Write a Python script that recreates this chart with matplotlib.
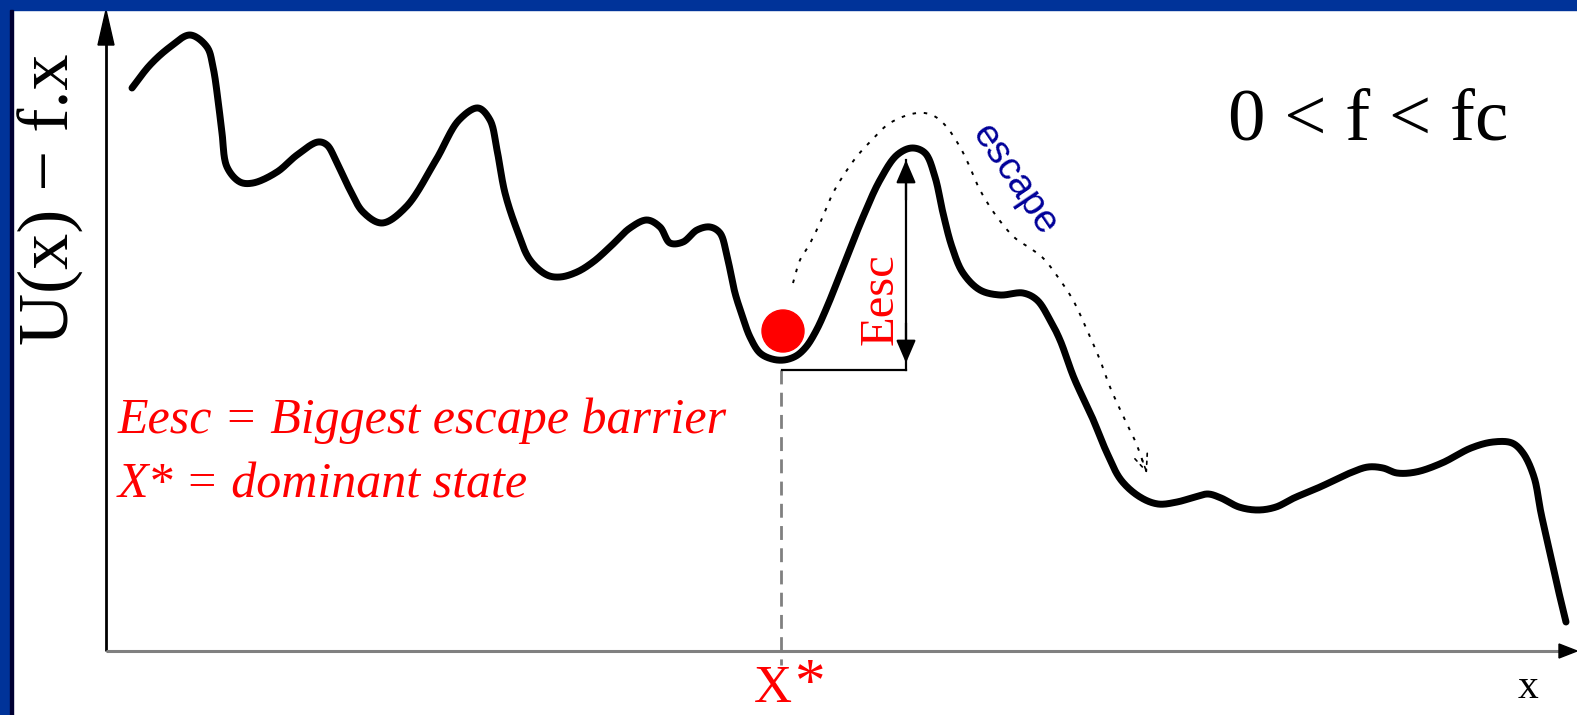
import numpy as np
import matplotlib
matplotlib.use("Agg")
import matplotlib.pyplot as plt
from matplotlib.patches import Rectangle, Circle, Polygon

# ---- data (x measured from the origin, U(x) - f.x measured upward) ----
curve_x = [26, 44, 64, 84, 101, 107, 112, 116, 121, 134, 147, 171, 191, 212, 221,
           231, 244, 257, 276, 300, 330, 353, 372, 384, 391, 399, 411, 424, 441,
           454, 471, 487, 504, 524, 541, 554, 564, 577, 591, 604, 614, 621, 629,
           636, 644, 654, 666, 678, 690, 700, 710, 721, 737, 757, 774, 791, 806, 819, 829,
           837, 846, 857, 874, 894, 917, 931, 944, 954, 968, 986, 1001, 1015, 1034,
           1052, 1071, 1089, 1102, 1115, 1133, 1152, 1170, 1188, 1214, 1244, 1262,
           1277, 1291, 1310, 1336, 1365, 1387, 1406, 1417, 1428, 1435, 1444, 1453,
           1460]
curve_u = [563, 586, 604, 616, 604, 584, 551, 518, 484, 469, 468, 479, 496, 509, 506,
           488, 461, 439, 428, 444, 491, 531, 543, 531, 501, 458, 421, 391, 376,
           374, 379, 389, 404, 423, 431, 424, 408, 409, 421, 424, 418, 395, 358,
           336, 314, 298, 292, 291, 295, 304, 320, 344, 384, 434, 471, 496, 503, 498, 474,
           438, 404, 378, 361, 356, 358, 351, 331, 311, 273, 234, 198, 171, 154,
           147, 149, 154, 157, 153, 144, 141, 144, 153, 164, 178, 184, 183, 178,
           179, 188, 203, 209, 208, 198, 174, 138, 98, 58, 29]

# escape path drawn above the barrier
escape_x = [687, 694, 702, 714, 727, 741, 752, 764, 784, 811, 826, 839, 854, 862,
            874, 891, 909, 924, 937, 954, 967, 981, 994, 1004, 1019, 1030, 1039]
escape_u = [368, 391, 404, 428, 458, 481, 496, 509, 528, 538, 536, 526, 504, 488,
            461, 434, 413, 403, 393, 371, 351, 321, 291, 264, 231, 208, 183]

x_star = 675          # dominant state position
u_star = 292          # bottom of the well
barrier_top = 491     # top of the escape barrier
barrier_x = 800       # where the barrier height is measured
ball_u = 320          # resting ball centre

BLUE = "#003399"
RED = "#ff0000"
NAVY = "#000099"


def centripetal_spline(xs, ys, n=24, alpha=0.5):
    P = np.column_stack([xs, ys]).astype(float)
    P = np.vstack([2 * P[0] - P[1], P, 2 * P[-1] - P[-2]])
    out = []
    for i in range(1, len(P) - 2):
        p0, p1, p2, p3 = P[i - 1], P[i], P[i + 1], P[i + 2]
        t0 = 0.0
        t1 = t0 + np.linalg.norm(p1 - p0) ** alpha
        t2 = t1 + np.linalg.norm(p2 - p1) ** alpha
        t3 = t2 + np.linalg.norm(p3 - p2) ** alpha
        t = np.linspace(t1, t2, n, endpoint=False)[:, None]
        A1 = (t1 - t) / (t1 - t0) * p0 + (t - t0) / (t1 - t0) * p1
        A2 = (t2 - t) / (t2 - t1) * p1 + (t - t1) / (t2 - t1) * p2
        A3 = (t3 - t) / (t3 - t2) * p2 + (t - t2) / (t3 - t2) * p3
        B1 = (t2 - t) / (t2 - t0) * A1 + (t - t0) / (t2 - t0) * A2
        B2 = (t3 - t) / (t3 - t1) * A2 + (t - t1) / (t3 - t1) * A3
        out.append((t2 - t) / (t2 - t1) * B1 + (t - t1) / (t2 - t1) * B2)
    out.append(P[-2][None])
    return np.vstack(out)


W, H = 1577, 715
fig = plt.figure(figsize=(W / 100, H / 100), dpi=100)
ax = fig.add_axes([0, 0, 1, 1])
ax.set_xlim(-106, W - 106)
ax.set_ylim(-64, H - 64)
ax.axis("off")
fig.patch.set_facecolor("white")

# frame bands
ax.add_patch(Rectangle((-106, 641), W, 20, color=BLUE, zorder=10, clip_on=False))
ax.add_patch(Rectangle((-116, -80), 20, 740, color=BLUE, zorder=10, clip_on=False))
ax.add_patch(Rectangle((-96, -80), 3, 721, color="#000033", zorder=10, clip_on=False))

# axes with arrow heads
ax.plot([0, 0], [0, 610], color="black", lw=2, solid_capstyle="butt", zorder=3)
ax.add_patch(Polygon([[0, 641], [-8, 606], [8, 606]], closed=True, color="black", zorder=3))
ax.plot([0, 1455], [0, 0], color="#808080", lw=2.2, solid_capstyle="butt", zorder=3)
ax.add_patch(Polygon([[1471, 0], [1453, -7], [1453, 7]], closed=True, color="black", zorder=3))

# potential landscape
pts = centripetal_spline(curve_x, curve_u)
ax.plot(pts[:, 0], pts[:, 1], color="black", lw=5, solid_capstyle="round",
        solid_joinstyle="round", zorder=4)

# escape path (dotted) with arrow head
ep = centripetal_spline(escape_x, escape_u)
ax.plot(ep[:, 0], ep[:, 1], color="black", lw=1.4, linestyle=(0, (1.8, 4)), zorder=4)
ax.annotate("", xy=(ep[-1, 0] + 3, ep[-1, 1] - 8), xytext=(ep[-12, 0], ep[-12, 1]),
            arrowprops=dict(arrowstyle="->,head_length=0.6,head_width=0.25",
                            color="black", lw=1.2, linestyle=(0, (1.8, 3)),
                            mutation_scale=20))

# dominant state marker
ax.plot([x_star, x_star], [u_star - 11, -14], color="#808080", lw=2,
        linestyle=(0, (5, 3)), zorder=2)
ax.add_patch(Circle((x_star + 2, ball_u), 21, color=RED, zorder=5))

# barrier height
ax.plot([x_star + 1, barrier_x], [u_star - 11, u_star - 11], color="black", lw=1.6, zorder=3)
ax.plot([barrier_x, barrier_x], [u_star - 11, barrier_top], color="black", lw=1.6, zorder=3)
arrow_kw = dict(arrowstyle="-|>,head_length=0.7,head_width=0.3", color="black",
                lw=1.6, mutation_scale=20, shrinkA=0, shrinkB=0)
ax.annotate("", xy=(barrier_x, barrier_top), xytext=(barrier_x, barrier_top - 40), arrowprops=arrow_kw)
ax.annotate("", xy=(barrier_x, u_star - 4), xytext=(barrier_x, u_star + 36), arrowprops=arrow_kw)

# texts
serif = ["Liberation Serif", "DejaVu Serif"]
ax.text(-55, 452, "U(x) − f.x", rotation=90, ha="center", va="center",
        fontsize=52, family=serif, color="black")
ax.text(1122, 511, "0 < f < fc", ha="left", va="baseline", fontsize=54,
        family=serif, color="black")
ax.text(787, 306, "Eesc", rotation=90, rotation_mode="anchor", ha="left",
        va="baseline", fontsize=35, family=serif, color=RED)
ax.text(908, 471, "escape", rotation=-56, rotation_mode="anchor", ha="center",
        va="center", fontsize=28, family=["Liberation Sans", "DejaVu Sans"], color=NAVY)
ax.text(12, 218, "Eesc = Biggest escape barrier", ha="left", va="baseline",
        fontsize=36, style="italic", family=serif, color=RED)
ax.text(12, 153, "X* = dominant state", ha="left", va="baseline",
        fontsize=36, style="italic", family=serif, color=RED)
ax.text(648, -62, "X", ha="left", va="bottom", fontsize=38, family=serif, color=RED)
ax.text(688, -62, "*", ha="left", va="bottom", fontsize=44, family=serif, color=RED)
ax.text(1422, -47, "x", ha="center", va="baseline", fontsize=30, family=serif, color="black")

fig.savefig("out.png", dpi=100, facecolor="white")
